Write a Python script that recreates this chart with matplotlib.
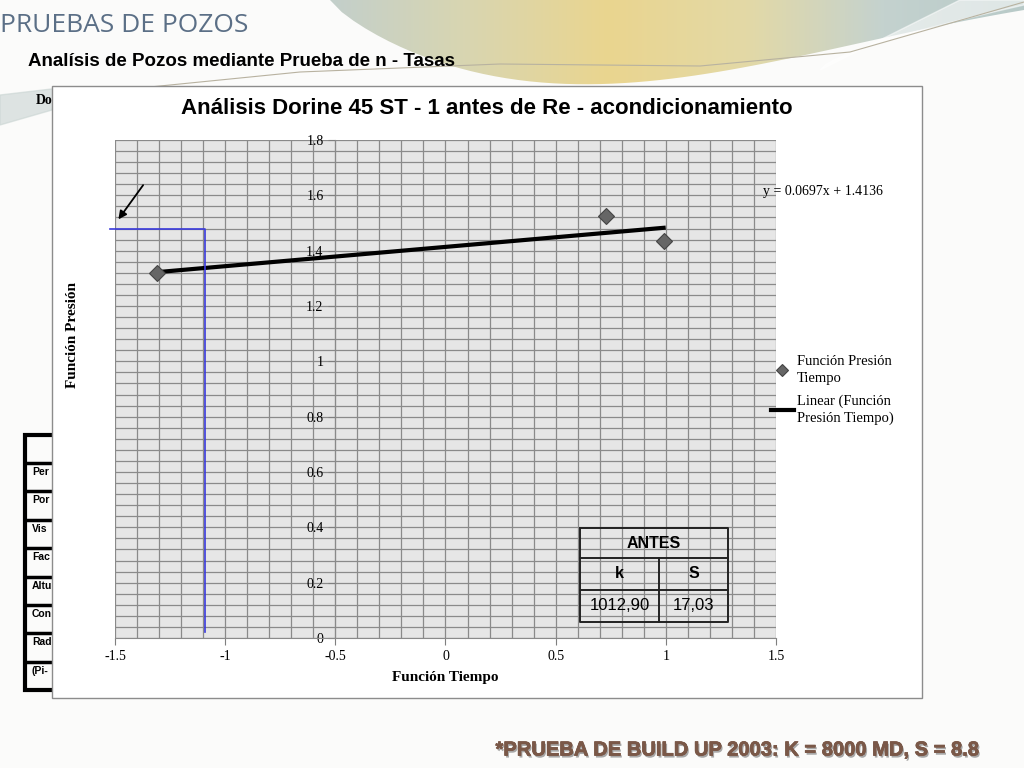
import numpy as np
import matplotlib.pyplot as plt
import matplotlib.patheffects as pe
from matplotlib.patches import Rectangle, Polygon
from matplotlib.lines import Line2D
from matplotlib.colors import LinearSegmentedColormap

# data
x_pts = [-1.31, 0.73, 0.99]
y_pts = [1.32, 1.525, 1.435]
slope, intercept = 0.0697, 1.4136
trend_x = [-1.31, 0.99]
x_ticks = [-1.5, -1, -0.5, 0, 0.5, 1, 1.5]
y_ticks = [0, 0.2, 0.4, 0.6, 0.8, 1, 1.2, 1.4, 1.6, 1.8]
marker_x = -1.09
marker_y = 1.478
table_head = "ANTES"
table_cols = ["k", "S"]
table_vals = ["1012,90", "17,03"]
side_rows = ["Per", "Por", "Vis", "Fac", "Altu", "Con", "Rad", "(Pi-"]

W, H = 1024, 768
fig = plt.figure(figsize=(10.24, 7.68), dpi=100)
fig.patch.set_facecolor("#fbfbfa")

# slide background
bg = fig.add_axes([0, 0, 1, 1], zorder=0)
bg.set_xlim(0, W)
bg.set_ylim(H, 0)
bg.axis("off")

t = np.linspace(0, 1, 60)
low_x = 330 + t * 694
low_y = 100 * np.sin(np.pi * t ** 0.8) * (1 - 0.5 * t) + 10 * t
poly = np.vstack([np.column_stack([low_x, low_y]), [[1024, 0], [330, 0]]])
grad = np.linspace(0, 1, 256)[None, :]
cm = LinearSegmentedColormap.from_list("sw", ["#c3cfcb", "#d9d6b0", "#ead58f", "#e3d9a6", "#c4d2cf", "#b8cac8"])
im = bg.imshow(grad, cmap=cm, extent=[330, 1024, 115, 0], aspect="auto", zorder=1)
im.set_clip_path(Polygon(poly, closed=True, transform=bg.transData))
wt = np.linspace(0, 1, 40)
wx = 820 + wt * 204
wy = 70 - 65 * wt ** 0.7
bg.fill(np.r_[wx, 1024, 960], np.r_[wy, 0, 0], color="white", alpha=0.55, zorder=2)
bg.plot(np.r_[100, 300, 500, 700, 850, 1024], np.r_[92, 72, 64, 66, 52, 2],
        color="#b8b2a0", lw=0.8, zorder=3)
bg.fill([0, 60, 52, 0], [95, 88, 110, 125], color="#c9d4d2", alpha=0.6, zorder=1)

fig.text(0.0, 1 - 25 / H, "PRUEBAS DE POZOS", fontsize=19, color="#5b6f86",
         family="Open Sans", va="center", ha="left")
fig.text(28 / W, 1 - 61 / H, "Analísis de Pozos mediante Prueba de n - Tasas",
         fontsize=13.5, fontweight="bold", family="Liberation Sans", va="center")
fig.text(36 / W, 1 - 101 / H, "Do", fontsize=10, fontweight="bold",
         family="Liberation Serif", va="center")

# left table peeking out
bg.add_patch(Rectangle((25, 435), 40, 255, fill=False, lw=3, ec="black", zorder=3))
for i, lbl in enumerate(side_rows):
    y0 = 463 + i * 28.4
    bg.plot([25, 60], [y0, y0], color="black", lw=2.5, zorder=3)
    bg.text(32, y0 + 4, lbl, fontsize=7.5, fontweight="bold", family="Liberation Sans",
            va="top", ha="left", zorder=3)

# chart box
fig.patches.append(Rectangle((52 / W, 1 - 698 / H), 870 / W, 612 / H, transform=fig.transFigure,
                             facecolor="white", edgecolor="#8c8c8c", lw=1, zorder=1))

ax = fig.add_axes([115 / W, 1 - 638 / H, 661 / W, 498 / H], zorder=2)
ax.set_facecolor("#e6e6e6")
ax.set_xlim(-1.5, 1.5)
ax.set_ylim(0, 1.8)
ax.spines["left"].set_position(("data", -0.5))
ax.spines["bottom"].set_position(("data", 0))
ax.spines["top"].set_visible(False)
ax.spines["right"].set_visible(False)
for s in ("left", "bottom"):
    ax.spines[s].set_color("#8a8a8a")
ax.set_xticks(np.arange(-1.5, 1.51, 0.1), minor=True)
ax.set_yticks(np.arange(0, 1.81, 0.04), minor=True)
ax.grid(which="both", color="#8a8a8a", lw=0.9)
ax.set_axisbelow(True)
ax.set_xticks(x_ticks)
ax.set_yticks(y_ticks)
ax.set_xticklabels([f"{v:g}" for v in x_ticks])
ax.set_yticklabels([f"{v:g}" for v in y_ticks])
ax.tick_params(which="minor", length=0)
ax.tick_params(which="major", length=5, color="#7f7f7f", labelsize=10,
               labelfontfamily="Liberation Serif")

ax.plot(x_pts, y_pts, "D", ms=8, color="#666666", mec="#444444", mew=0.8, zorder=4,
        label="Función Presión\nTiempo")
tx = np.array(trend_x)
ax.plot(tx, slope * tx + intercept, color="black", lw=3, zorder=3,
        label="Linear (Función\nPresión Tiempo)")

ax.plot([-1.523, marker_x, marker_x], [marker_y, marker_y, 0.02], color="#3a3adc",
        lw=1.2, clip_on=False, zorder=3)
ax.annotate("", xy=(-1.492, 1.505), xytext=(-1.365, 1.645),
            arrowprops=dict(arrowstyle="-|>", color="black", lw=1.3, mutation_scale=12),
            annotation_clip=False)

ax.set_xlabel("Función Tiempo", fontsize=11, fontweight="bold", family="Liberation Serif")
ax.xaxis.set_label_coords(0.5, -0.066)
fig.text(72 / W, 1 - 335 / H, "Función Presión", rotation=90, fontsize=11, fontweight="bold",
         family="Liberation Serif", va="center", ha="center")
fig.text(487 / W, 1 - 108 / H, "Análisis Dorine 45 ST - 1 antes de Re - acondicionamiento",
         fontsize=16, fontweight="bold", family="Liberation Sans", ha="center", va="center")
fig.text(763 / W, 1 - 191 / H, "y = 0.0697x + 1.4136", fontsize=10,
         family="Liberation Serif", va="center")

leg = ax.legend(loc="upper left", bbox_to_anchor=(758 / W, 1 - 342 / H),
                bbox_transform=fig.transFigure, frameon=False,
                prop={"family": "Liberation Serif", "size": 10.5}, markerscale=0.8,
                handlelength=1.55, handletextpad=0.2, labelspacing=0.7)
for txt in leg.get_texts():
    txt.set_linespacing(1.35)

# ANTES table (axes coords)
tx0, tx1 = (580 - 115) / 661, (728 - 115) / 661
tmid = (659 - 115) / 661
ry = [(638 - v) / 498 for v in (528, 558, 590, 622)]
kw = dict(transform=ax.transAxes, color="#222222", lw=1.4, zorder=5)
ax.add_line(Line2D([tx0, tx1, tx1, tx0, tx0], [ry[0], ry[0], ry[3], ry[3], ry[0]], **kw))
ax.add_line(Line2D([tx0, tx1], [ry[1], ry[1]], **kw))
ax.add_line(Line2D([tx0, tx1], [ry[2], ry[2]], **kw))
ax.add_line(Line2D([tmid, tmid], [ry[1], ry[3]], **kw))
tk = dict(transform=ax.transAxes, ha="center", va="center", family="Liberation Sans", zorder=6)
ax.text((tx0 + tx1) / 2, (ry[0] + ry[1]) / 2, table_head, fontsize=11.5, fontweight="bold", **tk)
ax.text((tx0 + tmid) / 2, (ry[1] + ry[2]) / 2, table_cols[0], fontsize=11.5, fontweight="bold", **tk)
ax.text((tmid + tx1) / 2, (ry[1] + ry[2]) / 2, table_cols[1], fontsize=11.5, fontweight="bold", **tk)
ax.text((tx0 + tmid) / 2, (ry[2] + ry[3]) / 2, table_vals[0], fontsize=12, **tk)
ax.text((tmid + tx1) / 2, (ry[2] + ry[3]) / 2, table_vals[1], fontsize=12, **tk)

fig.text(980 / W, 1 - 750 / H, "*PRUEBA DE BUILD UP 2003: K = 8000 MD, S = 8.8", fontsize=14.5,
         fontweight="bold", color="#7a5848", family="Liberation Sans", ha="right", va="center",
         path_effects=[pe.withSimplePatchShadow(offset=(1, -1.5), shadow_rgbFace="#555555", alpha=0.5),
                       pe.Stroke(linewidth=0.5, foreground="#7a5848"), pe.Normal()])

fig.savefig("out.png", dpi=100)
